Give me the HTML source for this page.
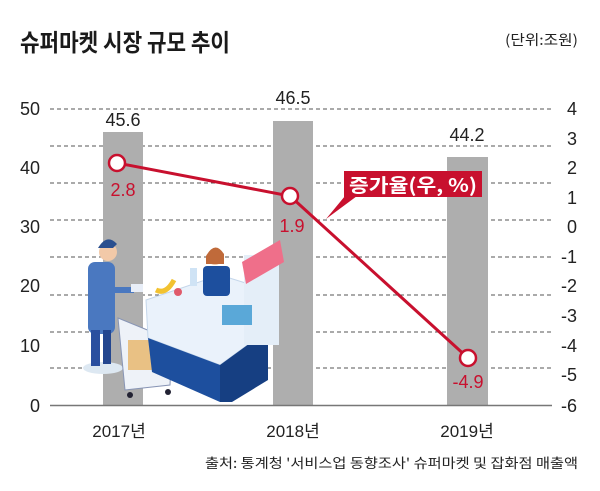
<!DOCTYPE html>
<html><head><meta charset="utf-8"><style>
html,body{margin:0;padding:0;background:#fff}
svg{display:block;font-family:"Liberation Sans","Noto Sans CJK KR",sans-serif}
</style></head><body>
<svg width="600" height="491" viewBox="0 0 600 491" xmlns="http://www.w3.org/2000/svg">
<rect width="600" height="491" fill="#fff"/>
<text x="20" y="51" font-size="24" font-weight="bold" fill="#1a1a1a" textLength="210" lengthAdjust="spacingAndGlyphs" font-family="Noto Sans CJK KR, sans-serif">슈퍼마켓 시장 규모 추이</text>
<text x="578" y="45" font-size="14" fill="#222" text-anchor="end" textLength="73" lengthAdjust="spacingAndGlyphs" font-family="Noto Sans CJK KR, sans-serif">(단위:조원)</text>
<g stroke="#555" stroke-width="1" stroke-dasharray="4,3">
<line x1="50" y1="109" x2="552" y2="109"/>
<line x1="50" y1="146" x2="552" y2="146"/>
<line x1="50" y1="183" x2="552" y2="183"/>
<line x1="50" y1="220" x2="552" y2="220"/>
<line x1="50" y1="257" x2="552" y2="257"/>
<line x1="50" y1="295" x2="552" y2="295"/>
<line x1="50" y1="332" x2="552" y2="332"/>
<line x1="50" y1="368" x2="552" y2="368"/>
</g>
<g fill="#aeaeae">
<rect x="103" y="132" width="40" height="274"/>
<rect x="273" y="121" width="40" height="285"/>
<rect x="447" y="157" width="41" height="249"/>
</g>
<line x1="50" y1="405.5" x2="552" y2="405.5" stroke="#777" stroke-width="1.5"/>
<g font-size="18" fill="#222" text-anchor="end">
<text x="40" y="115">50</text><text x="40" y="174">40</text><text x="40" y="233">30</text>
<text x="40" y="292">20</text><text x="40" y="352">10</text><text x="40" y="412">0</text>
</g>
<g font-size="18" fill="#222" text-anchor="end">
<text x="577" y="115">4</text><text x="577" y="145">3</text><text x="577" y="174">2</text>
<text x="577" y="204">1</text><text x="577" y="233">0</text><text x="577" y="263">-1</text>
<text x="577" y="292">-2</text><text x="577" y="322">-3</text><text x="577" y="352">-4</text>
<text x="577" y="381">-5</text><text x="577" y="412">-6</text>
</g>
<g font-size="18" fill="#222" text-anchor="middle">
<text x="123" y="126">45.6</text><text x="293" y="104">46.5</text><text x="467" y="141">44.2</text>
</g>
<!-- illustration -->
<g>
<ellipse cx="103" cy="368" rx="20" ry="6" fill="#dde8f2"/>
<rect x="88" y="262" width="27" height="72" rx="7" fill="#4a78c0"/>
<circle cx="108" cy="252" r="9" fill="#f2c9a8"/>
<path d="M98 248 q9 -15 19 -4 l-4 4 z" fill="#2a4f8f"/>
<rect x="91" y="330" width="9" height="36" fill="#2a4f9f"/>
<rect x="103" y="330" width="8" height="34" fill="#23468f"/>
<rect x="112" y="287" width="22" height="6" fill="#4a78c0"/>
<rect x="131" y="284" width="12" height="8" fill="#e8eef8"/>
<path d="M118 318 L172 340 L170 385 L125 390 Z" fill="#eef2f8" stroke="#8895b5"/>
<rect x="128" y="340" width="38" height="30" fill="#e8b870" opacity=".85"/>
<circle cx="130" cy="395" r="3" fill="#223"/><circle cx="168" cy="392" r="3" fill="#223"/>
<path d="M146 300 L220 275 L268 290 L268 330 L220 365 L148 338 Z" fill="#eaf2fb" stroke="#c4d6ea"/>
<path d="M148 338 L220 365 L220 402 L152 372 Z" fill="#1d4f9e"/>
<path d="M220 365 L268 330 L268 380 L232 402 L220 402 Z" fill="#163f82"/>
<rect x="244" y="255" width="35" height="90" fill="#e4eef8"/>
<path d="M242 262 l38 -22 l4 22 l-38 22 z" fill="#ef6f8a"/>
<circle cx="215" cy="257" r="8" fill="#f2c9a8"/>
<path d="M206 256 q9 -16 18 -2 l0 10 l-18 0 z" fill="#c06a3a"/>
<rect x="203" y="266" width="27" height="30" rx="4" fill="#1d4f9e"/>
<rect x="190" y="268" width="7" height="18" fill="#cfe3f5"/>
<path d="M156 290 q10 5 18 -10" stroke="#f2c230" stroke-width="5" fill="none"/>
<circle cx="178" cy="292" r="4" fill="#e05a6a"/>
<rect x="222" y="305" width="30" height="20" fill="#5aa8d8"/>
</g>
<polyline points="117,163 290,196 468,358" fill="none" stroke="#c8102e" stroke-width="3"/>
<g fill="#fff" stroke="#c8102e" stroke-width="2.5">
<circle cx="117" cy="163" r="8"/><circle cx="290" cy="196" r="8"/><circle cx="468" cy="358" r="8"/>
</g>
<g font-size="18" fill="#c8102e" text-anchor="middle">
<text x="123" y="196">2.8</text><text x="292" y="232">1.9</text><text x="468" y="388">-4.9</text>
</g>
<path d="M345 196 L326 219 L357 196 Z" fill="#c8102e"/>
<rect x="344" y="171" width="138" height="26" fill="#c8102e"/>
<text x="413" y="192" font-size="19" font-weight="bold" fill="#fff" text-anchor="middle" textLength="128" lengthAdjust="spacingAndGlyphs" font-family="Noto Sans CJK KR, sans-serif">증가율(우, %)</text>
<g font-size="17" fill="#222" text-anchor="middle" font-family="Liberation Sans, Noto Sans CJK KR, sans-serif">
<text x="119" y="437">2017년</text><text x="293" y="437">2018년</text><text x="467" y="437">2019년</text>
</g>
<text x="578" y="468" font-size="13.5" fill="#222" text-anchor="end" textLength="373" lengthAdjust="spacingAndGlyphs" font-family="Noto Sans CJK KR, sans-serif">출처: 통계청 '서비스업 동향조사' 슈퍼마켓 및 잡화점 매출액</text>
</svg>
</body></html>
